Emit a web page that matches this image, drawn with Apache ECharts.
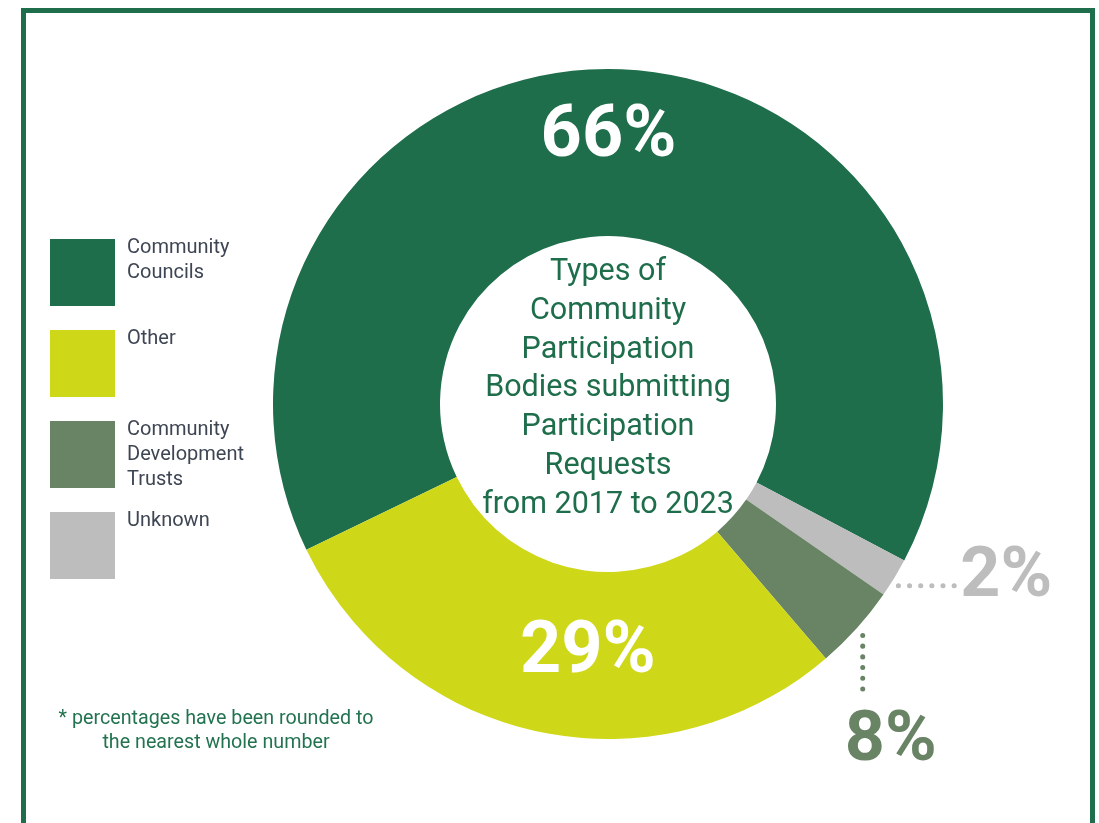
<!DOCTYPE html>
<html lang="en">
<head>
<meta charset="UTF-8">
<title>Community Participation Bodies</title>
<script src="https://cdn.jsdelivr.net/npm/echarts@6/dist/echarts.min.js"></script>
<style>
  html, body { margin: 0; padding: 0; background: #fff; }
  #main { width: 1099px; height: 823px; }
</style>
</head>
<body>
<div id="main"></div>
<script>
// slice order follows the ring clockwise from the left edge
const categories = ['Community Councils', 'Unknown', 'Community Development Trusts', 'Other'];
const shares = [64.9, 1.9, 4.1, 29.1];          // share of the ring
const shareLabels = ['66%', '2%', '8%', '29%'];  // printed percentages
const sliceColors = ['#1e6d4b', '#bdbdbd', '#688464', '#cfd719'];

const legendOrder = ['Community Councils', 'Other', 'Community Development Trusts', 'Unknown'];
const legendText = {
    'Community Councils': 'Community\nCouncils\n',
    'Other': 'Other\n\n',
    'Community Development Trusts': 'Community\nDevelopment\nTrusts',
    'Unknown': 'Unknown\n\n'
};

const centreTitle = ['Types of', 'Community', 'Participation', 'Bodies submitting',
    'Participation', 'Requests', 'from 2017 to 2023'];
const footnote = ['* percentages have been rounded to', 'the nearest whole number'];

const green = '#1e6d4b';
const myChart = echarts.init(document.getElementById('main'));

const data = categories.map((name, i) => {
    const item = {
        name: name,
        value: shares[i],
        itemStyle: { color: sliceColors[i] }
    };
    if (i === 1 || i === 2) {
        // small slices get a dotted leader and a coloured label outside
        item.label = { position: 'outside', color: sliceColors[i], fontSize: 70 };
        item.labelLine = {
            show: true,
            lineStyle: {
                color: sliceColors[i],
                width: 5,
                cap: 'round',
                type: i === 1 ? [0.1, 11.05] : [0.1, 10.6]
            }
        };
    } else {
        item.label = { position: 'inside', color: '#ffffff', fontSize: 72 };
        item.labelLine = { show: false };
    }
    return item;
});

const option = {
    animation: false,
    legend: {
        orient: 'vertical',
        left: 50,
        top: 232,
        padding: 0,
        itemWidth: 65,
        itemHeight: 67,
        itemGap: 10,
        icon: 'rect',
        selectedMode: false,
        data: legendOrder,
        formatter: name => legendText[name],
        textStyle: {
            fontFamily: 'Roboto',
            fontSize: 20,
            lineHeight: 25,
            color: '#3e4553',
            padding: [6, 0, 0, 7]
        }
    },
    series: [{
        type: 'pie',
        center: [608, 404],
        radius: [168, 335],
        startAngle: 205.8,
        clockwise: true,
        avoidLabelOverlap: false,
        silent: true,
        emphasis: { disabled: true },
        label: {
            show: true,
            fontFamily: 'Roboto',
            fontWeight: 'bold',
            textBorderWidth: 0,
            formatter: p => shareLabels[p.dataIndex]
        },
        labelLine: { length: 0, length2: 60 },
        labelLayout: function (p) {
            if (p.dataIndex === 0) return { dx: -4, dy: -12 };
            if (p.dataIndex === 3) return { dx: 32, dy: 1 };
            const pts = p.labelLinePoints;
            if (!pts) return {};
            const a = pts[0];
            if (p.dataIndex === 1) {
                return {
                    x: a[0] + 66, y: a[1] + 1, align: 'left', verticalAlign: 'middle',
                    labelLinePoints: [[a[0] + 4, a[1] + 8], [a[0] + 30, a[1] + 8], [a[0] + 60, a[1] + 8]]
                };
            }
            return {
                x: a[0] + 34, y: a[1] + 114, align: 'center', verticalAlign: 'middle',
                labelLinePoints: [[a[0] + 6, a[1] + 7], [a[0] + 6, a[1] + 40], [a[0] + 6, a[1] + 71]]
            };
        },
        data: data
    }],
    graphic: {
        elements: [
            {
                type: 'rect',
                shape: { x: 23.5, y: 10.5, width: 1069, height: 900 },
                style: { fill: null, stroke: green, lineWidth: 5 },
                silent: true
            },
            {
                type: 'text',
                x: 608,
                y: 253,
                style: {
                    text: centreTitle.join('\n'),
                    align: 'center',
                    verticalAlign: 'top',
                    fontFamily: 'Roboto',
                    fontSize: 30.5,
                    lineHeight: 38.75,
                    fill: green
                }
            },
            {
                type: 'text',
                x: 216,
                y: 731,
                style: {
                    text: footnote.join('\n'),
                    align: 'center',
                    verticalAlign: 'middle',
                    fontFamily: 'Roboto',
                    fontSize: 19.7,
                    lineHeight: 24,
                    fill: '#237350'
                }
            }
        ]
    }
};

option && myChart.setOption(option);
</script>
</body>
</html>
